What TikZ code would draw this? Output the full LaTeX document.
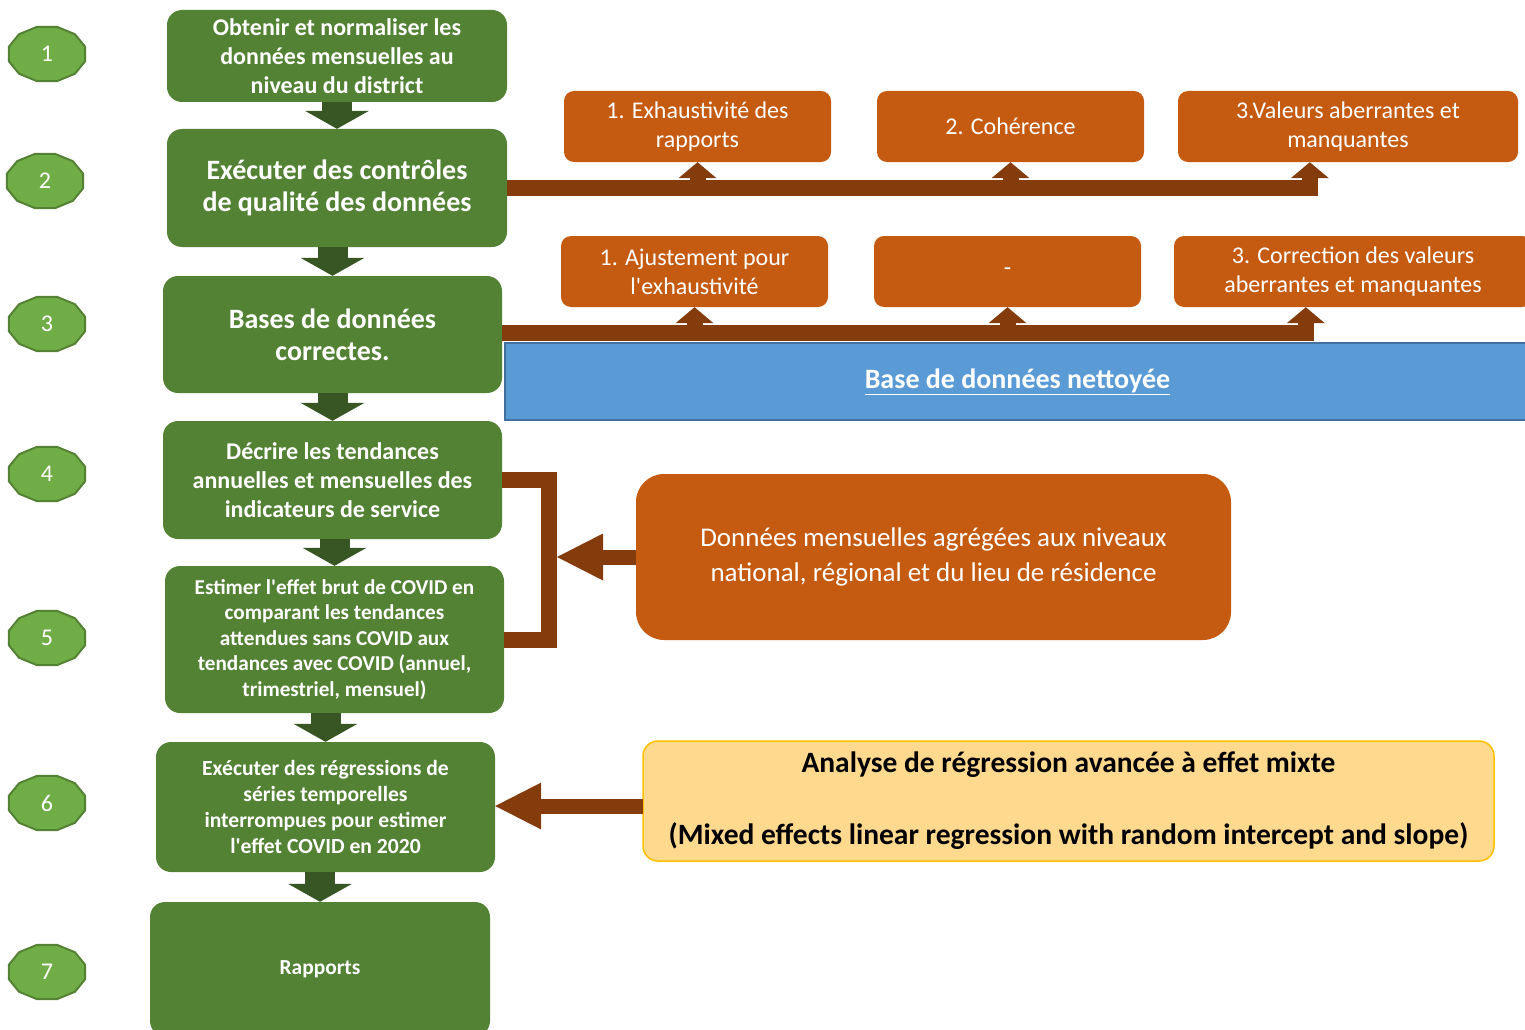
\documentclass[tikz,border=0pt]{standalone}
\usepackage{fontspec}
\setmainfont{Carlito}
\usetikzlibrary{arrows.meta,shapes.geometric}

\definecolor{vert}{HTML}{548235}
\definecolor{vertclair}{HTML}{70AD47}
\definecolor{vertfonce}{HTML}{375623}
\definecolor{orangebox}{HTML}{C55A11}
\definecolor{brun}{HTML}{843C0C}
\definecolor{bleu}{HTML}{5B9BD5}
\definecolor{bleubord}{HTML}{41719C}
\definecolor{jaune}{HTML}{FFD98E}
\definecolor{jaunebord}{HTML}{FFC000}

\tikzstyle{etape}= [rectangle,rounded corners=15pt,fill=vert,text=white,align=center,minimum width=339pt,inner sep=0pt]
\tikzstyle{numero}= [regular polygon,regular polygon sides=12,minimum size=56pt,inner sep=0pt,draw=vert,line width=2pt,fill=vertclair,xscale=1.41]
\tikzstyle{chiffre}= [text=white,font=\fontsize{24}{28}\selectfont]
\tikzstyle{controle}= [rectangle,rounded corners=10pt,fill=orangebox,text=white,align=center,minimum width=267pt,minimum height=71pt,inner sep=0pt,font=\fontsize{24}{29}\selectfont]
\tikzstyle{fleche}= [vertfonce,line width=30pt,-{Triangle[length=18pt,width=64pt,line width=0pt]}]
\tikzstyle{barre}= [brun,line width=16pt]
\tikzstyle{flechehaut}= [brun,line width=16pt,-{Triangle[length=16pt,width=38pt,line width=0pt]}]
\tikzstyle{flechegauche}= [brun,line width=15pt,-{Triangle[length=46pt,width=47pt,line width=0pt]}]

\begin{document}
\begin{tikzpicture}[x=1pt,y=-1pt]

		\useasboundingbox (0,0) rectangle (1525,1030);

		% numeros des etapes
		\node (n1) at (47,54) [numero] {};
		\node (c1) at (n1) [chiffre] {1};
		\node (n2) at (45,181) [numero] {};
		\node (c2) at (n2) [chiffre] {2};
		\node (n3) at (47,324) [numero] {};
		\node (c3) at (n3) [chiffre] {3};
		\node (n4) at (47,474) [numero] {};
		\node (c4) at (n4) [chiffre] {4};
		\node (n5) at (47,638) [numero] {};
		\node (c5) at (n5) [chiffre] {5};
		\node (n6) at (47,803) [numero] {};
		\node (c6) at (n6) [chiffre] {6};
		\node (n7) at (47,972) [numero] {};
		\node (c7) at (n7) [chiffre] {7};

		% etapes
		\node (b1) at (337,56) [etape,minimum width=340pt,minimum height=92pt,font=\bfseries\fontsize{24}{29}\selectfont] {Obtenir et normaliser les\\données mensuelles au\\niveau du district};
		\node (b2) at (337,188) [etape,minimum width=340pt,minimum height=118pt,font=\bfseries\fontsize{28}{32}\selectfont] {Exécuter des contrôles\\de qualité des données};
		\node (b3) at (332.5,334.5) [etape,minimum height=117pt,font=\bfseries\fontsize{28}{32}\selectfont] {Bases de données\\correctes.};
		\node (b4) at (332.5,480) [etape,minimum height=118pt,font=\bfseries\fontsize{24}{29}\selectfont] {Décrire les tendances\\annuelles et mensuelles des\\indicateurs de service};
		\node (b5) at (334.5,639.5) [etape,minimum height=147pt,font=\bfseries\fontsize{21.2}{25.5}\selectfont] {Estimer l\textquotesingle effet brut de COVID en\\comparant les tendances\\attendues sans COVID aux\\tendances avec COVID (annuel,\\trimestriel, mensuel)};
		\node (b6) at (325.5,807) [etape,minimum height=130pt,font=\bfseries\fontsize{21.6}{26}\selectfont] {Exécuter des régressions de\\séries temporelles\\interrompues pour estimer\\l\textquotesingle effet COVID en 2020};
		\node (b7) at (320,969) [etape,minimum width=340pt,minimum height=134pt,font=\bfseries\fontsize{21.4}{25}\selectfont] {Rapports};

		% controles de qualite
		\node (o1) at (697.5,126.5) [controle] {1. Exhaustivité des\\rapports};
		\node (o2) at (1010.5,126.5) [controle] {2. Cohérence};
		\node (o3) at (1348,126.5) [controle,minimum width=340pt] {3.Valeurs aberrantes et\\manquantes};

		\node (p1) at (694.5,271.5) [controle] {1. Ajustement pour\\l\textquotesingle exhaustivité};
		\node (p2) at (1007.5,271.5) [controle] {-};
		\node (p3) at (1353,271.5) [controle,minimum width=358pt] {3. Correction des valeurs\\aberrantes et manquantes};

		% fleches entre les etapes
		\path[fleche] (b1.south) edge[] node {} (b2.north);
		\path[fleche] (b2.south -| b3.north) edge[] node {} (b3.north);
		\path[fleche] (b3.south) edge[] node {} (b4.north);
		\path[fleche] (b4.south -| b5.north) edge[] node {} (b5.north);
		\path[fleche] (b5.south -| b6.north) edge[] node {} (b6.north);
		\path[fleche] (b6.south -| b7.north) edge[] node {} (b7.north);

		% barres vers les controles
		\draw[flechehaut] (b2.east) -| ([xshift=132pt]o3.south west);
		\draw[flechehaut] (o1.south |- b2.east) -- (o1.south);
		\draw[flechehaut] (o2.south |- b2.east) -- (o2.south);

		\draw[flechehaut] ([yshift=2pt]b3.east) -| ([xshift=132pt]p3.south west);
		\draw[flechehaut] (p1.south |- 0,332) -- (p1.south);
		\draw[flechehaut] (p2.south |- 0,332) -- (p2.south);

		\node (base) at (1017.5,381.5) [rectangle,draw=bleubord,line width=2pt,fill=bleu,text=white,minimum width=1025pt,minimum height=77pt,inner sep=0pt,font=\bfseries\fontsize{28}{32}\selectfont] {\underline{Base de données nettoyée}};

		% donnees agregees
		\node (q) at (933.5,557) [rectangle,rounded corners=28pt,fill=orangebox,text=white,align=center,minimum width=595pt,minimum height=166pt,inner sep=0pt,font=\fontsize{27}{35}\selectfont] {Données mensuelles agrégées aux niveaux\\national, régional et du lieu de résidence};
		\coordinate (brk) at (557,557);
		\draw[barre] (b4.east) -- ++(47,0) |- (b5.east);
		\draw[flechegauche] (q.west) -- (brk);

		% regression
		\node (y) at (1068.5,801) [rectangle,rounded corners=15pt,draw=jaunebord,line width=1.5pt,fill=jaune,text=black,align=center,minimum width=851pt,minimum height=120pt,inner sep=0pt,font=\bfseries\fontsize{29.5}{36}\selectfont] {Analyse de régression avancée à effet mixte\\[36pt](Mixed effects linear regression with random intercept and slope)};
		\coordinate (yarr) at (643,806);
		\draw[flechegauche] (yarr) -- (yarr -| b6.east);

\end{tikzpicture}
\end{document}
